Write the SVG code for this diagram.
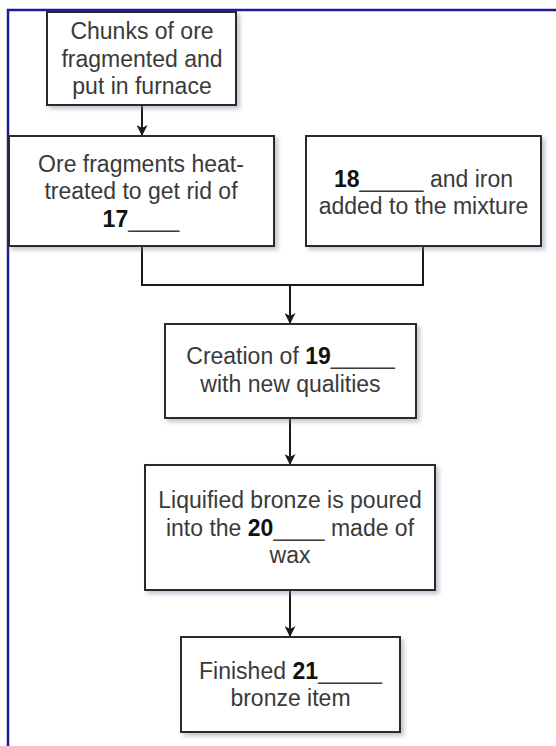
<svg xmlns="http://www.w3.org/2000/svg" width="556" height="746" viewBox="0 0 556 746">
  <defs>
    <filter id="sh" x="-10%" y="-10%" width="130%" height="130%">
      <feDropShadow dx="3" dy="3" stdDeviation="2" flood-color="#7a7f99" flood-opacity="0.45"/>
    </filter>
    <marker id="ah" markerWidth="11" markerHeight="11" refX="10" refY="5.5" orient="auto" markerUnits="userSpaceOnUse">
      <path d="M0,0 L11,5.5 L0,11 L3,5.5 Z" fill="#1a1a1a"/>
    </marker>
    <style>
      .box { fill: #ffffff; stroke: #2a2a2a; stroke-width: 2; filter: url(#sh); }
      .t { font-family: "Liberation Sans", Arial, sans-serif; font-size: 23px; fill: #3a3a3a; text-anchor: middle; }
      .b { font-weight: bold; fill: #111111; }
      .c { fill: none; stroke: #1a1a1a; stroke-width: 2; }
      .frame { fill: none; stroke: #1c1c96; stroke-width: 2.5; }
    </style>
  </defs>
  <rect x="0" y="0" width="556" height="746" fill="#ffffff"/>
  <path class="frame" d="M8,746 L8,10 L556,10"/>

  <g id="connectors">
    <path class="c" d="M142,105 L142,135" marker-end="url(#ah)"/>
    <path class="c" d="M142,246 L142,285 L423,285 L423,246"/>
    <path class="c" d="M290,285 L290,323" marker-end="url(#ah)"/>
    <path class="c" d="M290,418 L290,464" marker-end="url(#ah)"/>
    <path class="c" d="M290,590 L290,636" marker-end="url(#ah)"/>
  </g>

  <g id="node-chunks">
    <rect class="box" x="47" y="12" width="189" height="93"/>
    <text class="t" x="142" y="39">Chunks of ore</text>
    <text class="t" x="142" y="66.5">fragmented and</text>
    <text class="t" x="142" y="94">put in furnace</text>
  </g>

  <g id="node-heat">
    <rect class="box" x="9" y="136" width="265" height="110"/>
    <text class="t" x="141" y="171.5">Ore fragments heat-</text>
    <text class="t" x="141" y="199">treated to get rid of</text>
    <text class="t" x="141" y="226.5"><tspan class="b">17</tspan>____</text>
  </g>

  <g id="node-added">
    <rect class="box" x="306" y="136" width="235" height="110"/>
    <text class="t" x="423.5" y="187"><tspan class="b">18</tspan>_____ and iron</text>
    <text class="t" x="423.5" y="214">added to the mixture</text>
  </g>

  <g id="node-creation">
    <rect class="box" x="165" y="324" width="251" height="94"/>
    <text class="t" x="290.5" y="364">Creation of <tspan class="b">19</tspan>_____</text>
    <text class="t" x="290.5" y="392">with new qualities</text>
  </g>

  <g id="node-poured">
    <rect class="box" x="145" y="465" width="290" height="125"/>
    <text class="t" x="290" y="508">Liquified bronze is poured</text>
    <text class="t" x="290" y="535.5">into the <tspan class="b">20</tspan>____ made of</text>
    <text class="t" x="290" y="563">wax</text>
  </g>

  <g id="node-finished">
    <rect class="box" x="181" y="637" width="219" height="95"/>
    <text class="t" x="290.5" y="678.5">Finished <tspan class="b">21</tspan>_____</text>
    <text class="t" x="290.5" y="706">bronze item</text>
  </g>
</svg>
